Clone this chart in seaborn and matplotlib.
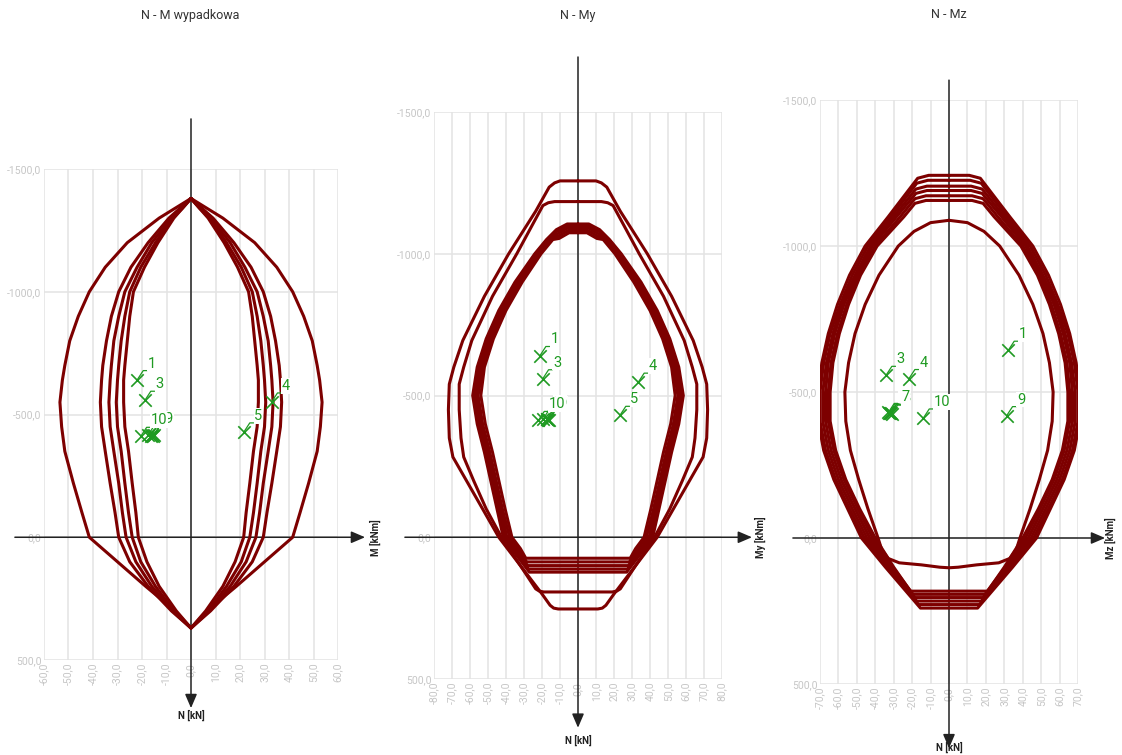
import numpy as np
import pandas as pd
import seaborn as sns
import matplotlib.pyplot as plt

W, H = 1122, 755
RED = '#7d0000'
GREEN = '#1f9a22'
GRID = '#e3e3e3'
TICK = '#c6c6c6'

# ---------------- N - M wypadkowa ----------------
p1_n = [-1380, -1340, -1300, -1200, -1100, -1000, -900, -800, -700, -640, -550,
        -450, -350, -220, -100, 0, 100, 200, 300, 370]
p1_outer = [0, 6.5, 13, 26, 35, 41.5, 46, 49.5, 51.5, 52.5, 53.5, 52.8, 51.5, 48, 44.5, 41.5, 30, 18.5, 6.5, 0]
p1_in_a = [0, 4.5, 9, 17.5, 24.5, 29.5, 32.5, 34.5, 36, 36.5, 37, 36.5, 35, 33, 31, 29.5, 25, 17.5, 8, 0]
p1_in_b = [0, 4, 8, 16, 22, 27, 29.5, 31.5, 32.5, 33, 33.5, 33, 31.5, 29.5, 28, 26.5, 22.5, 16, 7.5, 0]
p1_in_c = [0, 3.5, 7.5, 14.5, 20.5, 25, 27, 28.5, 29.5, 30, 30.5, 30, 28.5, 27, 25.5, 24, 20.5, 14.5, 7, 0]
p1_in_d = [0, 3.5, 7, 13.5, 19, 23.5, 25, 26, 27, 27.5, 27.5, 27, 25.5, 24, 22.5, 21.5, 18, 13, 6, 0]

p1_pt_m = [-21.9, -17.4, -18.8, 32.9, 21.6, -16.1, -15.4, -16.5, -15.0, -20.5]
p1_pt_n = [-642, -418, -558, -551, -429, -416, -414, -414, -418, -411]

# ---------------- N - My ----------------
p2_o1_n = [-1257, -1257, -1250, -1235, -1150, -1000, -850, -694, -600, -540, -450, -350, -283,
           -200, -100, 0, 100, 200, 240, 250, 253, 253]
p2_o1_m = [0, 10, 13, 16, 23.5, 38.5, 52, 64, 69, 71.5, 72, 71.5, 69.5, 62, 53, 44, 32, 20, 15.5, 13.5, 11, 0]
p2_o2_n = [-1184, -1184, -1180, -1170, -1100, -1000, -850, -694, -600, -540, -450, -350, -283,
           -200, -100, 0, 100, 182, 190, 193, 193]
p2_o2_m = [0, 13, 16.5, 19.5, 25.5, 34, 47.5, 59, 63.5, 66, 66, 65, 63.5, 58, 51, 42.5, 32, 23.5, 21.5, 19, 0]

p2_band_n = [-1050, -1000, -900, -800, -700, -600, -500, -400, -300, -200, -100, 0, 40]
p2_band_top = [-1105, -1098, -1090, -1082, -1074]
p2_band_top_w = [6, 6, 6, 5.5, 5]
p2_band_sh_n = [-1085, -1078, -1070, -1062, -1054]
p2_band_sh_m = [12, 12, 11.5, 11, 10.5]
p2_band_bot = [123, 112, 100, 87, 74]
p2_band_bot_w = [27, 27.5, 28, 28.5, 29]
p2_band_m = [
    [17.5, 24, 35, 44, 51, 56, 58.5, 56, 52, 48.5, 45, 41.5, 37],
    [17, 23.5, 34, 43, 50, 55, 57.5, 55, 51, 47.5, 44, 40.5, 36],
    [16, 22.5, 33, 42, 49, 54, 56.5, 54, 50, 46.5, 43, 39.5, 35],
    [15, 21.5, 32, 41, 48, 53, 55.5, 53, 49, 45.5, 42, 38, 33.5],
    [14, 20.5, 31, 40, 47, 52, 54, 51.5, 47.5, 44, 40.5, 36.7, 32],
]

p2_pt_m = [-21.1, -19.3, -19.6, 33.5, 23.3, -17.4, -16.0, -17.0, -16.5, -22.0]
p2_pt_n = [-641, -418, -559, -547, -430, -416, -414, -417, -415, -412]

# ---------------- N - Mz ----------------
p3_band_n = [-1100, -1000, -900, -800, -700, -600, -500, -400, -300, -200, -100, 0, 100]
p3_band_top = [-1242, -1225, -1205, -1190, -1172, -1156]
p3_band_top_w = [11, 11.5, 12, 12, 12.5, 12.5]
p3_band_sh_n = [-1232, -1215, -1195, -1180, -1162, -1146]
p3_band_sh_m = [17, 17.5, 18, 18, 18.5, 18.5]
p3_band_bot = [240, 228, 216, 204, 193, 182]
p3_band_bot_w = [15.5, 16.5, 17.5, 18.5, 19.5, 21]
p3_band_m = [
    [33, 45.5, 54, 60.5, 65.5, 69, 71, 71, 68, 62.5, 55, 47.5, 34.5],
    [31.5, 44, 52.5, 59, 64.5, 68, 70, 70, 67, 61.5, 54, 46, 33.5],
    [30, 42.5, 51, 58, 63, 66.5, 68.5, 68.5, 65.5, 60, 52.5, 44.5, 32.5],
    [28.5, 41.5, 50, 57, 62, 65.5, 67, 67, 64, 58.5, 51, 43, 31.5],
    [26.5, 40, 49, 55.5, 60.5, 64, 65.5, 65.5, 62.5, 57, 49.5, 41.5, 30.5],
    [24.5, 39, 48, 54.5, 59.5, 63, 64.5, 64.5, 61.5, 56, 48.5, 40, 30],
]
p3_in_n = [-1088, -1080, -1050, -1000, -900, -800, -700, -600, -500, -400, -300, -200,
           -100, 0, 40, 70, 85, 92, 100, 102]
p3_in_m = [0, 10, 19, 27.5, 38, 45.5, 51, 54.5, 56.5, 56, 53.5, 49, 44, 38.5, 36.5, 33,
           27, 15, 5, 0]

p3_pt_m = [32.2, -32.9, -34.2, -21.7, -32.5, -31.8, -31.5, -31.1, 31.3, -13.9]
p3_pt_n = [-643, -430, -557, -546, -428, -427, -427, -424, -419, -411]

point_labels = ['1', '2', '3', '4', '5', '6', '7', '8', '9', '10']


def closed_curve(n_half, m_half):
    m = list(m_half) + [-v for v in reversed(m_half)]
    n = list(n_half) + list(reversed(n_half))
    return m, n


def band_half(top, tw, sh_n, sh_m, grid, vals, bot, bw):
    return ([top, top, sh_n] + list(grid) + [bot, bot],
            [0, tw, sh_m] + list(vals) + [bw, 0])


def curves_frame(halves):
    rows = []
    for i, (n_half, m_half) in enumerate(halves):
        m, n = closed_curve(n_half, m_half)
        rows.append(pd.DataFrame({'curve': i, 'M': m, 'N': n}))
    return pd.concat(rows, ignore_index=True)


def fmt(v):
    return f"{v:.1f}".replace('.', ',')


def setup(ax, xmax, mlabel, vtop, vtip, hstart, htip, nlab_y, mlab_x):
    ax.set_xlim(-xmax, xmax)
    ax.set_ylim(500, -1500)
    xt = np.arange(-xmax, xmax + 1, 10)
    ax.set_xticks(xt)
    ax.set_xticklabels([fmt(v) for v in xt], rotation=90)
    yt = [-1500, -1000, -500, 0, 500]
    ax.set_yticks(yt)
    ax.set_yticklabels([fmt(v) for v in yt])
    ax.grid(True, color=GRID, lw=1.1, zorder=0)
    ax.set_axisbelow(True)
    for s in ax.spines.values():
        s.set_visible(False)
    ax.tick_params(length=0, labelsize=7.5, labelcolor=TICK, pad=2)
    ax.set_xlabel('')
    ax.set_ylabel('')
    ap = dict(arrowstyle='-|>,head_length=0.7,head_width=0.3', color='#222222', lw=1.1,
              shrinkA=0, shrinkB=0, mutation_scale=12)
    tx = ax.get_xaxis_transform()
    ty = ax.get_yaxis_transform()
    ax.annotate('', xy=(0, vtip), xytext=(0, vtop), xycoords=tx, textcoords=tx,
                arrowprops=ap, annotation_clip=False, zorder=2)
    ax.annotate('', xy=(htip, 0), xytext=(hstart, 0), xycoords=ty, textcoords=ty,
                arrowprops=ap, annotation_clip=False, zorder=2)
    ax.text(0, nlab_y, 'N [kN]', transform=tx, ha='center', va='center',
            fontsize=7, fontweight='bold', color='#222222', clip_on=False)
    ax.text(mlab_x, 0, mlabel, transform=ty, ha='center', va='center', rotation=90,
            fontsize=7, fontweight='bold', color='#222222', clip_on=False)


def draw(ax, df, pm, pn, front):
    sns.lineplot(data=df, x='M', y='N', units='curve', estimator=None, sort=False,
                 color=RED, lw=2.2, ax=ax, legend=False, zorder=3)
    sns.scatterplot(x=pm, y=pn, marker='x', s=80, color=GREEN, linewidth=1.2,
                    ax=ax, zorder=5, legend=False)
    for lbl, m, n in zip(point_labels, pm, pn):
        ax.annotate(lbl, xy=(m, n), xytext=(7.5, 6.5), textcoords='offset points',
                    ha='left', va='bottom', fontsize=10.5, color=GREEN,
                    zorder=8 if lbl == front else 6,
                    bbox=dict(boxstyle='square,pad=0.05', fc='white', ec='none'),
                    arrowprops=dict(arrowstyle='-', color=GREEN, lw=0.9, shrinkA=0,
                                    shrinkB=0, relpos=(0, 0),
                                    connectionstyle='angle,angleA=0,angleB=57,rad=0'))


sns.set_theme(style='white')
plt.rcParams['font.family'] = ['Roboto', 'DejaVu Sans']

fig = plt.figure(figsize=(W / 100, H / 100), dpi=100)


def axes_px(left, right, top, bottom):
    return fig.add_axes([left / W, (H - bottom) / H, (right - left) / W, (bottom - top) / H])


ax1 = axes_px(44, 338, 169, 660)
ax2 = axes_px(434, 722, 112, 679)
ax3 = axes_px(820, 1078, 100, 684)

df1 = curves_frame([(p1_n, p1_outer), (p1_n, p1_in_a), (p1_n, p1_in_b),
                    (p1_n, p1_in_c), (p1_n, p1_in_d)])
draw(ax1, df1, p1_pt_m, p1_pt_n, '10')
setup(ax1, 60, 'M [kNm]', 1.102, -0.098, -0.099, 1.092, -0.112, 1.126)

halves2 = [(p2_o1_n, p2_o1_m), (p2_o2_n, p2_o2_m)]
for i in range(len(p2_band_m)):
    halves2.append(band_half(p2_band_top[i], p2_band_top_w[i], p2_band_sh_n[i], p2_band_sh_m[i],
                             p2_band_n, p2_band_m[i], p2_band_bot[i], p2_band_bot_w[i]))
df2 = curves_frame(halves2)
draw(ax2, df2, p2_pt_m, p2_pt_n, '10')
setup(ax2, 80, 'My [kNm]', 1.097, -0.086, -0.101, 1.104, -0.109, 1.132)

halves3 = []
for i in range(len(p3_band_m)):
    halves3.append(band_half(p3_band_top[i], p3_band_top_w[i], p3_band_sh_n[i], p3_band_sh_m[i],
                             p3_band_n, p3_band_m[i], p3_band_bot[i], p3_band_bot_w[i]))
halves3.append((p3_in_n, p3_in_m))
df3 = curves_frame(halves3)
draw(ax3, df3, p3_pt_m, p3_pt_n, '7')
setup(ax3, 70, 'Mz [kNm]', 1.034, -0.110, -0.105, 1.105, -0.108, 1.124)

for x, t in [(190, 'N - M wypadkowa'), (578, 'N - My'), (949, 'N - Mz')]:
    fig.text(x / W, 1 - 15 / H, t, ha='center', va='center', fontsize=9, color='#333333')

fig.savefig('out.png', dpi=100, facecolor='white')
